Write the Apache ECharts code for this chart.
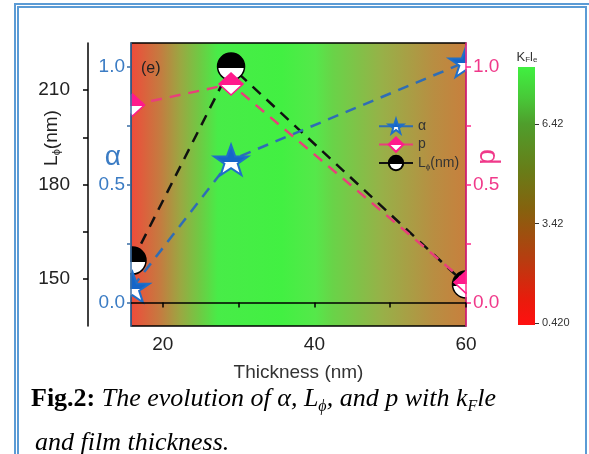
<!DOCTYPE html>
<html><head><meta charset="utf-8">
<script src="https://cdn.jsdelivr.net/npm/echarts@6/dist/echarts.min.js"></script>
<style>html,body{margin:0;padding:0;background:#fff}#c{width:589px;height:454px}</style>
</head><body><div id="c"></div>
<script>
// ---- data ----
const thickness = [16, 29, 60];
const alphaVals = [0.065, 0.604, 1.02];
const pVals = [0.837, 0.926, 0.085];
const lphiVals = [155.8, 217.5, 148.2];
const xTicks = [20, 30, 40, 50, 60];
const xLabels = [20, 40, 60];
const lTicks = [150, 165, 180, 195, 210];
const lLabels = [150, 180, 210];
const fracTicks = [0, 0.25, 0.5, 0.75, 1.0];
const fracLabels = [0, 0.5, 1.0];
const kfleTicks = [0.42, 3.42, 6.42];
const kfleRange = [0.36, 8.14];

const G = echarts.graphic;
function half(c) {
  return new G.LinearGradient(0, 0, 0, 1, [
    {offset: 0, color: c}, {offset: 0.55, color: c},
    {offset: 0.55, color: '#fff'}, {offset: 1, color: '#fff'}]);
}
const bgGrad = new G.LinearGradient(0, 0, 1, 0, [
  {offset: 0, color: '#f04a3a'}, {offset: 0.09, color: '#c47c40'},
  {offset: 0.15, color: '#9aa842'}, {offset: 0.21, color: '#6ccc44'},
  {offset: 0.26, color: '#48ec48'}, {offset: 0.45, color: '#42f042'},
  {offset: 0.55, color: '#55e84a'}, {offset: 0.6, color: '#68d448'},
  {offset: 0.75, color: '#98b048'}, {offset: 0.9, color: '#b88e42'},
  {offset: 1, color: '#c87f3d'}]);
const cbGrad = new G.LinearGradient(0, 67, 0, 325, [
  {offset: 0, color: '#40f040'}, {offset: 0.12, color: '#48c838'},
  {offset: 0.22, color: '#4f9e2c'}, {offset: 0.4, color: '#687d18'},
  {offset: 0.55, color: '#85620e'}, {offset: 0.75, color: '#b83c10'},
  {offset: 0.9, color: '#e81c0c'}, {offset: 1, color: '#ff1010'}], true);

const STAR = 'path://M50,0 L61.8,35.1 L98.1,35.1 L68.8,56.7 L79.4,91 L50,70 L20.6,91 L31.2,56.7 L1.9,35.1 L38.2,35.1 Z';
const SANS = 'Liberation Sans, Arial, sans-serif';
const SERIF = 'Liberation Serif, Times New Roman, serif';
const BLUE = '#3b7cc4', PINK = '#f0398a';

const chart = echarts.init(document.getElementById('c'), null, {renderer: 'canvas'});
chart.setOption({
  animation: false,
  textStyle: {fontFamily: SANS},
  title: [
    {text: '(e)', left: 136, top: 56, textStyle: {fontSize: 16, fontWeight: 'normal', color: '#222', fontFamily: SANS}},
    {left: 26, top: 379,
     text: '{b|Fig.2: }{i|The evolution of α, L}{s|ϕ}{i|, and p with k}{s|F}{i|le}',
     textStyle: {fontWeight: 'normal', rich: {
       b: {fontFamily: SERIF, fontWeight: 'bold', fontSize: 26, color: '#000', lineHeight: 30},
       i: {fontFamily: SERIF, fontStyle: 'italic', fontWeight: 'normal', fontSize: 26, color: '#000', lineHeight: 30},
       s: {fontFamily: SERIF, fontStyle: 'italic', fontWeight: 'normal', fontSize: 16, color: '#000', lineHeight: 14, padding: [16, 0, 0, 0]}}}},
    {left: 30, top: 425, text: 'and film thickness.',
     textStyle: {fontFamily: SERIF, fontStyle: 'italic', fontWeight: 'normal', fontSize: 26, color: '#000'}}
  ],
  graphic: [
    {type: 'rect', shape: {x: 15, y: 4, width: 620, height: 520}, style: {fill: 'none', stroke: '#5B9BD5', lineWidth: 2}, z: 0},
    {type: 'rect', shape: {x: 18, y: 7, width: 568, height: 520}, style: {fill: 'none', stroke: '#5B9BD5', lineWidth: 2}, z: 0},
    {type: 'rect', shape: {x: 110, y: 36, width: 20.3, height: 300}, style: {fill: '#fff'}, z: 10},
    {type: 'rect', shape: {x: 466.8, y: 36, width: 30, height: 300}, style: {fill: '#fff'}, z: 10}
  ],
  legend: {
    left: 373, top: 113, orient: 'vertical', itemWidth: 34, itemHeight: 18, itemGap: 2,
    data: ['α', 'p', 'Lφ'], z: 30,
    lineStyle: {type: 'solid'},
    formatter: n => n === 'Lφ' ? '{n|L}{s|ϕ}{n|(nm)}' : '{n|' + n + '}',
    textStyle: {rich: {n: {fontSize: 14, color: '#333'}, s: {fontSize: 8, color: '#333', padding: [7, 0, 0, 0]}}}
  },
  grid: [
    {left: 131, top: 43, width: 335, height: 283, show: true, backgroundColor: bgGrad,
     borderColor: '#000', borderWidth: 1.5, outerBoundsMode: 'none'},
    {left: 518, top: 67, width: 17, height: 258, show: false, outerBoundsMode: 'none'}
  ],
  xAxis: [
    {gridIndex: 0, type: 'value', min: 15.8, max: 60, position: 'bottom', z: 20,
     axisLine: {show: true, lineStyle: {color: '#000', width: 1.5}},
     axisTick: {show: true, customValues: xTicks, length: 5, lineStyle: {color: '#000', width: 1.5}},
     axisLabel: {customValues: xLabels, fontSize: 19, color: '#222', margin: 9},
     splitLine: {show: false},
     name: 'Thickness (nm)', nameLocation: 'middle', nameGap: 37, nameMoveOverlap: false,
     nameTextStyle: {fontSize: 19, color: '#333'}},
    {gridIndex: 1, type: 'category', data: ['kFle'], show: false}
  ],
  yAxis: [
    {gridIndex: 0, type: 'value', position: 'left', offset: 43, min: 135, max: 225, z: 20,
     axisLine: {show: true, lineStyle: {color: '#000', width: 1.5}},
     axisTick: {show: true, customValues: lTicks, length: 5, lineStyle: {color: '#000', width: 1.5}},
     axisLabel: {customValues: lLabels, fontSize: 19, color: '#222', margin: 18},
     splitLine: {show: false},
     name: '{a|L}{s|ϕ}{a|(nm)}', nameLocation: 'middle', nameGap: 26, nameRotate: 90, nameMoveOverlap: false,
     nameTextStyle: {padding: [0, 0, 0, 93], rich: {
       a: {fontSize: 19, color: '#222'}, s: {fontSize: 11, color: '#222', padding: [9, 0, 0, 0]}}}},
    {gridIndex: 0, type: 'value', position: 'left', offset: 0, min: -0.1, max: 1.1, z: 20,
     axisLine: {show: true, lineStyle: {color: '#3a6ea5', width: 1.5}},
     axisTick: {show: true, customValues: fracTicks, length: 4, lineStyle: {color: '#3a6ea5', width: 1.5}},
     axisLabel: {customValues: fracLabels, formatter: v => Number(v).toFixed(1), fontSize: 19, color: BLUE, margin: 6},
     splitLine: {show: false},
     name: 'α\n\n', nameLocation: 'middle', nameRotate: 0, nameGap: 10, nameMoveOverlap: false,
     nameTextStyle: {color: BLUE, fontSize: 28, lineHeight: 27}},
    {gridIndex: 0, type: 'value', position: 'right', offset: 0, min: -0.1, max: 1.1, z: 20,
     axisLine: {show: true, lineStyle: {color: '#ff2a8c', width: 1.5}},
     axisTick: {show: true, customValues: fracTicks, length: 5, lineStyle: {color: '#ff2a8c', width: 1.5}},
     axisLabel: {customValues: fracLabels, formatter: v => Number(v).toFixed(1), fontSize: 19, color: PINK, margin: 7},
     splitLine: {show: false},
     name: 'p', nameLocation: 'middle', nameRotate: 90, nameGap: 7, nameMoveOverlap: false,
     nameTextStyle: {color: PINK, fontSize: 28, padding: [0, 0, 0, 55]}},
    {gridIndex: 1, type: 'value', position: 'right', min: kfleRange[0], max: kfleRange[1], z: 20,
     axisLine: {show: false},
     axisTick: {show: true, customValues: kfleTicks, length: 4, lineStyle: {color: '#333'}},
     axisLabel: {customValues: kfleTicks, formatter: v => (Math.abs(v - 0.42) < 1e-6 ? '0.420' : Number(v).toFixed(2)), fontSize: 11, color: '#333', margin: 7},
     splitLine: {show: false},
     name: '{a|K}{s|F}{a|l}{s|e}', nameLocation: 'end', nameGap: 3, nameMoveOverlap: false,
     nameTextStyle: {align: 'center', padding: [0, 16, 0, 0], rich: {
       a: {fontSize: 13, color: '#333'}, s: {fontSize: 8, color: '#333', padding: [6, 0, 0, 0]}}}}
  ],
  series: [
    {name: 'Lφ', type: 'line', xAxisIndex: 0, yAxisIndex: 0, z: 3, clip: false,
     data: thickness.map((t, i) => [t, lphiVals[i]]),
     symbol: 'circle', symbolSize: 27,
     itemStyle: {color: half('#000'), borderColor: '#000', borderWidth: 1.5},
     lineStyle: {color: '#111', width: 2.5, type: [11, 8]}},
    {name: 'p', type: 'line', xAxisIndex: 0, yAxisIndex: 2, z: 4, clip: false,
     data: thickness.map((t, i) => [t, pVals[i]]),
     symbol: 'diamond', symbolSize: [24, 22],
     itemStyle: {color: half('#ff1a8c'), borderColor: '#ff1a8c', borderWidth: 1.5},
     lineStyle: {color: '#e8407a', width: 2.5, type: [11, 8]}},
    {name: 'α', type: 'line', xAxisIndex: 0, yAxisIndex: 1, z: 5, clip: false,
     data: thickness.map((t, i) => [t, alphaVals[i]]),
     symbol: STAR, symbolSize: [34, 32], symbolKeepAspect: true,
     itemStyle: {color: half('#1565c8'), borderColor: '#1f6fc8', borderWidth: 2},
     lineStyle: {color: '#2f6db5', width: 2.5, type: [11, 8]}},
    {name: 'kFle', type: 'bar', xAxisIndex: 1, yAxisIndex: 3, barWidth: '100%', silent: true,
     data: [kfleRange[1]], itemStyle: {color: cbGrad}}
  ]
});
</script></body></html>
